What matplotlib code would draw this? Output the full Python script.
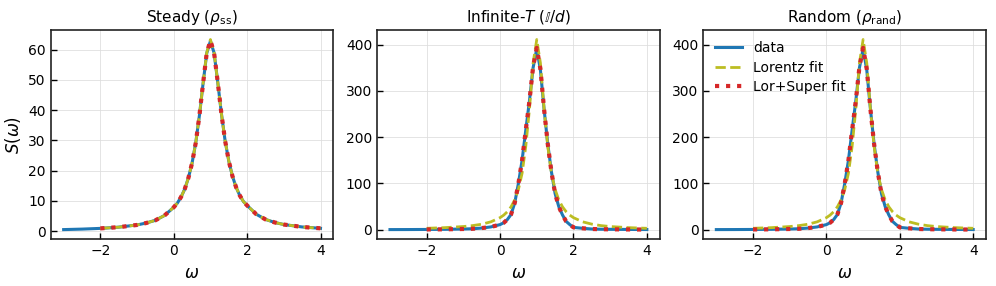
import matplotlib
matplotlib.use("Agg")
import matplotlib.pyplot as plt
import numpy as np

# frequency grid (data covers -3..4, fits cover -2..4)
omega = [-3.0, -2.5, -2.0, -1.5, -1.0, -0.75, -0.5, -0.25, 0.0, 0.1, 0.2, 0.3, 0.4,
         0.5, 0.6, 0.7, 0.8, 0.9, 1.0, 1.1, 1.2, 1.3, 1.4, 1.5, 1.6, 1.7, 1.8,
         1.9, 2.0, 2.25, 2.5, 2.75, 3.0, 3.5, 4.0]
omega_fit = omega[2:]

# Steady panel
steady_data = [0.53, 0.69, 0.93, 1.33, 2.06, 2.7, 3.6, 5.2, 7.9, 9.3, 11.3, 13.9, 17.6,
               22.5, 29.2, 38.2, 48.8, 58.8, 62.8, 58.9, 49.2, 38.8, 29.9, 23.2, 18.2,
               14.5, 11.8, 9.8, 8.5, 5.6, 3.9, 2.9, 2.2, 1.4, 0.95]
steady_lor = [0.93, 1.33, 2.06, 2.7, 3.6, 5.2, 7.9, 9.3, 11.3, 13.9, 17.6,
              22.5, 29.2, 38.2, 48.8, 59.0, 63.3, 59.0, 49.2, 38.8, 29.9, 23.2, 18.2,
              14.5, 11.8, 9.8, 8.5, 5.6, 3.9, 2.9, 2.2, 1.4, 0.95]
steady_sup = [0.93, 1.33, 2.06, 2.7, 3.6, 5.2, 7.9, 9.3, 11.3, 13.9, 17.6,
              22.5, 29.2, 38.2, 48.8, 58.9, 63.0, 58.9, 49.2, 38.8, 29.9, 23.2, 18.2,
              14.5, 11.8, 9.8, 8.5, 5.6, 3.9, 2.9, 2.2, 1.4, 0.95]

# Infinite-T panel
inf_data = [0.2, 0.3, 0.5, 0.8, 1.5, 2.0, 3.5, 6.0, 11.0, 15.0, 22.0, 33.0, 58.0,
            100.0, 150.0, 215.0, 278.0, 350.0, 391.0, 345.0, 260.0, 185.0, 125.0, 78.0,
            50.0, 32.0, 18.0, 11.0, 5.0, 3.0, 1.5, 1.0, 0.8, 0.5, 0.3]
inf_lor = [3.0, 4.4, 6.8, 8.8, 11.8, 17.0, 26.0, 31.5, 39.0, 49.5, 64.5,
           87.0, 122.0, 180.0, 260.0, 360.0, 411.0, 360.0, 260.0, 180.0, 122.0, 87.0,
           64.5, 49.5, 39.0, 31.5, 26.0, 17.0, 12.0, 8.8, 6.8, 4.4, 3.0]
inf_sup = [0.5, 0.8, 1.5, 2.0, 3.5, 6.0, 11.0, 15.0, 22.0, 33.0, 58.0,
           100.0, 150.0, 215.0, 278.0, 352.0, 393.0, 347.0, 260.0, 185.0, 125.0, 78.0,
           50.0, 32.0, 18.0, 11.0, 5.0, 3.0, 1.5, 1.0, 0.8, 0.5, 0.3]

# Random panel
rand_data = [0.2, 0.3, 0.5, 0.8, 1.5, 2.0, 3.5, 6.0, 11.0, 15.0, 22.0, 33.0, 58.0,
             100.0, 150.0, 215.0, 278.0, 350.0, 391.0, 345.0, 260.0, 185.0, 125.0, 78.0,
             50.0, 32.0, 18.0, 11.0, 5.0, 3.0, 1.5, 1.0, 0.8, 0.5, 0.3]
rand_lor = [3.0, 4.4, 6.8, 8.8, 11.8, 17.0, 26.0, 31.5, 39.0, 49.5, 64.5,
            87.0, 122.0, 180.0, 260.0, 360.0, 411.0, 360.0, 260.0, 180.0, 122.0, 87.0,
            64.5, 49.5, 39.0, 31.5, 26.0, 17.0, 12.0, 8.8, 6.8, 4.4, 3.0]
rand_sup = [0.5, 0.8, 1.5, 2.0, 3.5, 6.0, 11.0, 15.0, 22.0, 33.0, 58.0,
            100.0, 150.0, 215.0, 278.0, 352.0, 393.0, 347.0, 260.0, 185.0, 125.0, 78.0,
            50.0, 32.0, 18.0, 11.0, 5.0, 3.0, 1.5, 1.0, 0.8, 0.5, 0.3]

titles = [r"Steady ($\rho_{\rm ss}$)", r"Infinite-$T$ ($\mathbb{I}/d$)",
          r"Random ($\rho_{\rm rand}$)"]
series = [(steady_data, steady_lor, steady_sup),
          (inf_data, inf_lor, inf_sup),
          (rand_data, rand_lor, rand_sup)]
labels = ["data", "Lorentz fit", "Lor+Super fit"]

fig, axes = plt.subplots(1, 3, figsize=(9.96, 2.86), dpi=100)
fig.subplots_adjust(left=0.051, right=0.990, top=0.895, bottom=0.164, wspace=0.155)

for i, (ax, title, (d, l, s)) in enumerate(zip(axes, titles, series)):
    ax.plot(omega, d, color="#1f77b4", lw=2.2, label=labels[0])
    ax.plot(omega_fit, l, color="#bcbd22", lw=2.0, ls="--", label=labels[1])
    ax.plot(omega_fit, s, color="#d62728", lw=3.0, ls=":", label=labels[2])
    ax.set_title(title, fontsize=11)
    ax.set_xlabel(r"$\omega$", fontsize=12)
    ax.set_xticks([-2, 0, 2, 4])
    ax.grid(True, color="#dddddd", lw=0.7, alpha=0.8)
    ax.tick_params(direction="in", labelsize=10, length=4, width=1)
    for sp in ax.spines.values():
        sp.set_linewidth(1.2)
        sp.set_color("#222222")
    if i == 0:
        ax.set_ylabel(r"$S(\omega)$", fontsize=12)
    if i == 2:
        ax.legend(loc="upper left", frameon=False, fontsize=10, handlelength=2.0,
                  borderaxespad=0.4, labelspacing=0.4)

fig.savefig("out.png", dpi=100)
